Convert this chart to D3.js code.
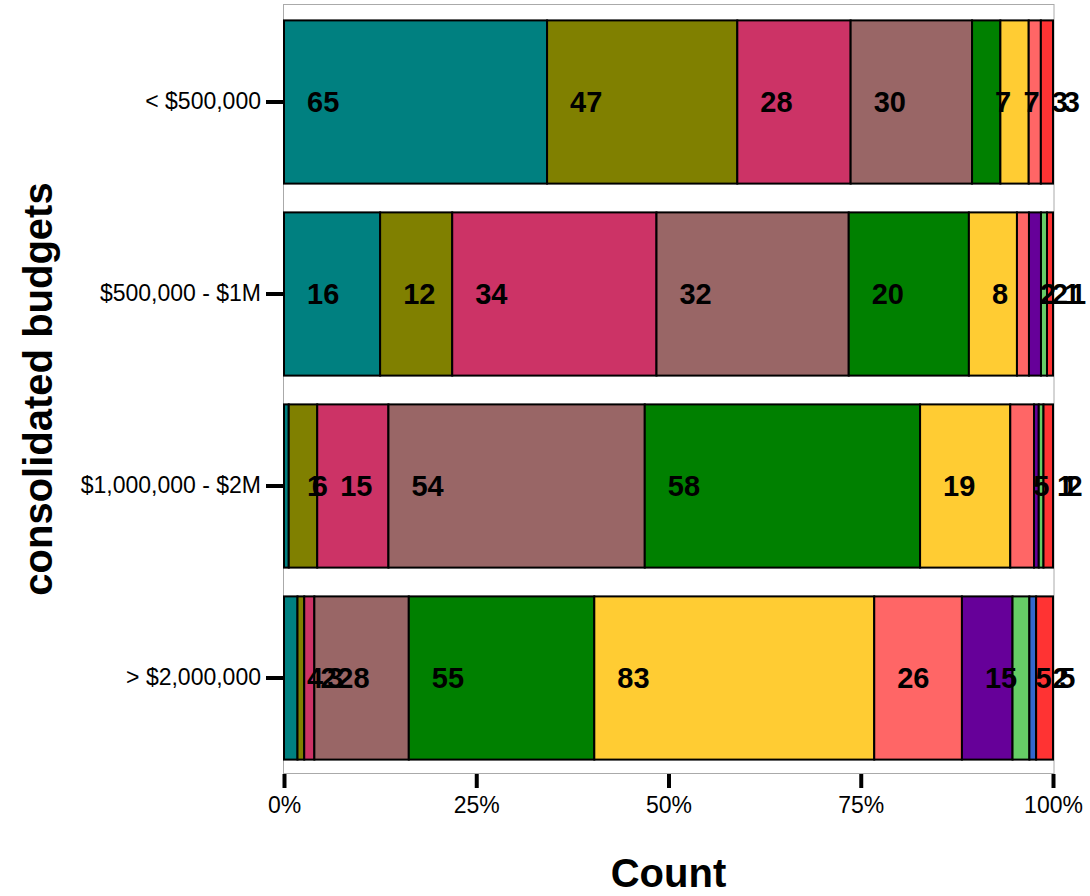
<!DOCTYPE html>
<html>
<head>
<meta charset="utf-8">
<script src="https://cdn.jsdelivr.net/npm/d3@7"></script>
<style>
  html, body { margin: 0; padding: 0; background: #fff; }
  svg { display: block; font-family: "Liberation Sans", Arial, sans-serif; }
</style>
</head>
<body>
<svg id="chart" width="1090" height="896"></svg>
<script>
// ---- data ----
const categories = ["< $500,000", "$500,000 - $1M", "$1,000,000 - $2M", "> $2,000,000"];
const seriesNames = ["g1", "g2", "g3", "g4", "g5", "g6", "g7", "g8", "g9", "g10", "g11"];
const g1  = [65, 16, 1, 4];
const g2  = [47, 12, 6, 2];
const g3  = [28, 34, 15, 3];
const g4  = [30, 32, 54, 28];
const g5  = [7, 20, 58, 55];
const g6  = [7, 8, 19, 83];
const g7  = [3, 2, 5, 26];
const g8  = [0, 2, 1, 15];
const g9  = [0, 1, 1, 5];
const g10 = [0, 0, 0, 2];
const g11 = [3, 1, 2, 5];
const seriesValues = [g1, g2, g3, g4, g5, g6, g7, g8, g9, g10, g11];
const seriesColors = ["#008080", "#808000", "#CC3366", "#996666", "#008000", "#FFCC33",
                      "#FF6666", "#660099", "#66CC66", "#3366CC", "#FF3333"];
const xTickValues = [0, 0.25, 0.5, 0.75, 1];
const xTickLabels = ["0%", "25%", "50%", "75%", "100%"];
const xTitle = "Count";
const yTitle = "consolidated budgets";

// ---- table ----
const table = categories.map((c, i) => {
  const row = { category: c };
  seriesNames.forEach((s, j) => { row[s] = seriesValues[j][i]; });
  return row;
});

const svg = d3.select("#chart");
const panel = { left: 284, right: 1053, top: 5, bottom: 773 };

const x = d3.scaleLinear().domain([0, 1]).range([panel.left, panel.right]);
const y = d3.scaleBand().domain(categories).range([panel.top + 1, panel.bottom + 1])
  .paddingInner(0.15).paddingOuter(0.075);
const color = d3.scaleOrdinal().domain(seriesNames).range(seriesColors);

const stacked = d3.stack().keys(seriesNames).offset(d3.stackOffsetExpand)(table);

// panel border
svg.append("rect")
  .attr("x", panel.left - 0.5).attr("y", panel.top - 0.5)
  .attr("width", panel.right - panel.left + 1.5).attr("height", panel.bottom - panel.top + 1)
  .attr("fill", "none").attr("stroke", "#aaaaaa").attr("stroke-width", 1);

// bars
const layers = svg.append("g").selectAll("g")
  .data(stacked).join("g")
  .attr("fill", d => color(d.key));

layers.selectAll("rect")
  .data(d => d.map(v => ({ key: d.key, v0: v[0], v1: v[1], cat: v.data.category, n: v.data[d.key] }))
               .filter(e => e.n > 0))
  .join("rect")
  .attr("x", e => x(e.v0))
  .attr("y", e => y(e.cat))
  .attr("width", e => x(e.v1) - x(e.v0))
  .attr("height", y.bandwidth())
  .attr("stroke", "#000")
  .attr("stroke-width", 2);

// labels
const labels = [];
stacked.forEach(layer => {
  layer.forEach(v => {
    const n = v.data[layer.key];
    if (n > 0) labels.push({ v0: v[0], cat: v.data.category, n });
  });
});
svg.append("g").selectAll("text")
  .data(labels).join("text")
  .attr("x", d => x(d.v0) + 23)
  .attr("y", d => y(d.cat) + y.bandwidth() / 2)
  .attr("dy", "0.36em")
  .attr("text-anchor", "start")
  .attr("font-size", 29)
  .attr("font-weight", "bold")
  .attr("fill", "#000")
  .text(d => d.n);

// x axis
const xAxis = d3.axisBottom(x).tickValues(xTickValues)
  .tickFormat((d, i) => xTickLabels[i]).tickSize(14).tickPadding(9);
const xg = svg.append("g").attr("transform", `translate(0,${panel.bottom + 1})`).call(xAxis);
xg.select(".domain").remove();
xg.selectAll(".tick line").attr("stroke", "#000").attr("stroke-width", 4);
xg.selectAll(".tick text").attr("font-size", 23).attr("fill", "#000")
  .attr("font-family", "'Liberation Sans', Arial, sans-serif");

// y axis
const yAxis = d3.axisLeft(y).tickSize(17).tickPadding(5);
const yg = svg.append("g").attr("transform", `translate(${panel.left - 1},0)`).call(yAxis);
yg.select(".domain").remove();
yg.selectAll(".tick line").attr("stroke", "#000").attr("stroke-width", 4);
yg.selectAll(".tick text").attr("font-size", 23).attr("fill", "#000")
  .attr("font-family", "'Liberation Sans', Arial, sans-serif");

// titles
svg.append("text")
  .attr("x", (panel.left + panel.right) / 2).attr("y", 887)
  .attr("text-anchor", "middle").attr("font-size", 40).attr("font-weight", "bold")
  .text(xTitle);
svg.append("text")
  .attr("transform", `translate(52,${(panel.top + panel.bottom) / 2}) rotate(-90)`)
  .attr("text-anchor", "middle").attr("font-size", 40).attr("font-weight", "bold")
  .text(yTitle);
</script>
</body>
</html>
